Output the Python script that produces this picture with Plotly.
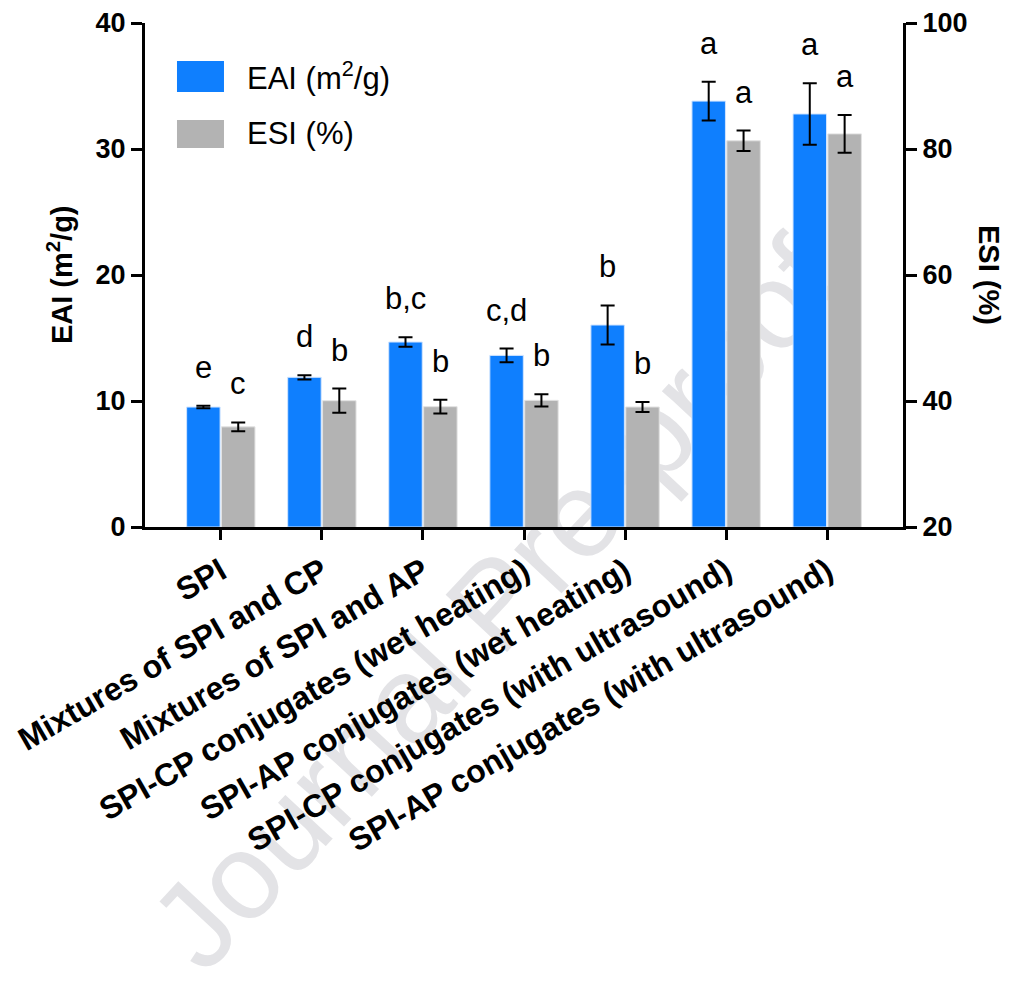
import plotly.graph_objects as go

categories = [
    "SPI",
    "Mixtures of SPI and CP",
    "Mixtures of SPI and AP",
    "SPI-CP conjugates (wet heating)",
    "SPI-AP conjugates (wet heating)",
    "SPI-CP conjugates (with ultrasound)",
    "SPI-AP conjugates (with ultrasound)",
]
eai = [9.52, 11.88, 14.68, 13.62, 16.03, 33.8, 32.78]
eai_err = [0.1, 0.17, 0.37, 0.54, 1.55, 1.53, 2.44]
esi = [35.9, 40.05, 39.1, 40.1, 39.05, 81.3, 82.4]
esi_err = [0.7, 1.93, 1.1, 0.98, 0.79, 1.62, 3.0]
eai_letters = ["e", "d", "b,c", "c,d", "b", "a", "a"]
esi_letters = ["c", "b", "b", "b", "b", "a", "a"]

FONT = "Liberation Sans, Arial, sans-serif"
BLUE = "#0f7ffe"
GRAY = "#b3b3b3"
BARGAP = 0.31

fig = go.Figure()
fig.add_trace(go.Bar(
    x=categories, y=eai, name="EAI (m<sup>2</sup>/g)", marker_color=BLUE,
    marker_line=dict(color="#d0e4ff", width=1), offsetgroup="1", yaxis="y",
    error_y=dict(type="data", array=eai_err, color="black", thickness=2, width=7),
))
fig.add_trace(go.Bar(
    x=categories, y=esi, name="ESI (%)", marker_color=GRAY,
    marker_line=dict(color="#e2e2e2", width=1), offsetgroup="2", yaxis="y2",
    base=0,
    error_y=dict(type="data", array=esi_err, color="black", thickness=2, width=7),
))

ann = []
half = (1 - BARGAP) / 4
for i, (v, e, t) in enumerate(zip(eai, eai_err, eai_letters)):
    ann.append(dict(x=i - half, y=v + e, xref="x", yref="y", text=t, showarrow=False,
                    xanchor="center", yanchor="bottom", yshift=19,
                    font=dict(family=FONT, size=31, color="black")))
for i, (v, e, t) in enumerate(zip(esi, esi_err, esi_letters)):
    ann.append(dict(x=i + half, y=v + e, xref="x", yref="y2", text=t, showarrow=False,
                    xanchor="center", yanchor="bottom", yshift=19,
                    font=dict(family=FONT, size=31, color="black")))

# axis titles
ann.append(dict(x=-0.1121, y=0.5, xref="paper", yref="paper", text="EAI (m<sup>2</sup>/g)",
                showarrow=False, textangle=-90, xanchor="center", yanchor="middle",
                font=dict(family=FONT, size=29, color="black", weight="bold")))
ann.append(dict(x=1.1135, y=0.5, xref="paper", yref="paper", text="ESI (%)",
                showarrow=False, textangle=90, xanchor="center", yanchor="middle",
                font=dict(family=FONT, size=29, color="black", weight="bold")))

# legend text
ann.append(dict(x=0.132, y=0.8948, xref="paper", yref="paper", text="EAI (m<sup>2</sup>/g)",
                showarrow=False, xanchor="left", yanchor="middle",
                font=dict(family=FONT, size=31, color="black")))
ann.append(dict(x=0.132, y=0.7798, xref="paper", yref="paper", text="ESI (%)",
                showarrow=False, xanchor="left", yanchor="middle",
                font=dict(family=FONT, size=31, color="black")))

shapes = [
    # watermark, drawn beneath the bars
    dict(type="rect", xref="paper", yref="paper", x0=0.15, x1=0.75, y0=-0.45, y1=0.18,
         fillcolor="rgba(0,0,0,0)", line=dict(width=0), layer="below",
         label=dict(text="Journal Pre-proof", textangle=-47, textposition="middle center",
                    font=dict(family=FONT, size=122, color="#e3e3e6"))),
    # legend swatches
    dict(type="rect", xref="paper", yref="paper", x0=0.0422, x1=0.1042, y0=0.863, y1=0.9246,
         fillcolor=BLUE, line=dict(width=0)),
    dict(type="rect", xref="paper", yref="paper", x0=0.0422, x1=0.1042, y0=0.752, y1=0.8075,
         fillcolor=GRAY, line=dict(width=0)),
]

fig.update_layout(
    width=997, height=972,
    margin=dict(l=137, r=102, t=15, b=453, autoexpand=False),
    paper_bgcolor="white", plot_bgcolor="rgba(0,0,0,0)",
    barmode="group", bargap=BARGAP, bargroupgap=0.04,
    showlegend=False,
    annotations=ann, shapes=shapes,
    xaxis=dict(range=[-0.75, 6.75], showline=True, linecolor="black", linewidth=3,
               ticks="outside", ticklen=10, tickwidth=3, tickcolor="black", tickangle=-30,
               tickfont=dict(family=FONT, size=32, color="black", weight="bold"), showgrid=False,
               automargin=False),
    yaxis=dict(range=[0, 40], dtick=10, showline=True, linecolor="black", linewidth=3,
               ticks="outside", ticklen=11, tickwidth=3, tickcolor="black", showgrid=False, zeroline=False,
               tickfont=dict(family=FONT, size=27, color="black", weight="bold"), automargin=False),
    yaxis2=dict(range=[20, 100], dtick=20, overlaying="y", side="right", showline=True,
                linecolor="black", linewidth=3, ticks="outside", ticklen=11, tickwidth=3,
                tickcolor="black", showgrid=False, zeroline=False,
                tickfont=dict(family=FONT, size=27, color="black", weight="bold"), automargin=False),
)

fig.write_html("out.html")
